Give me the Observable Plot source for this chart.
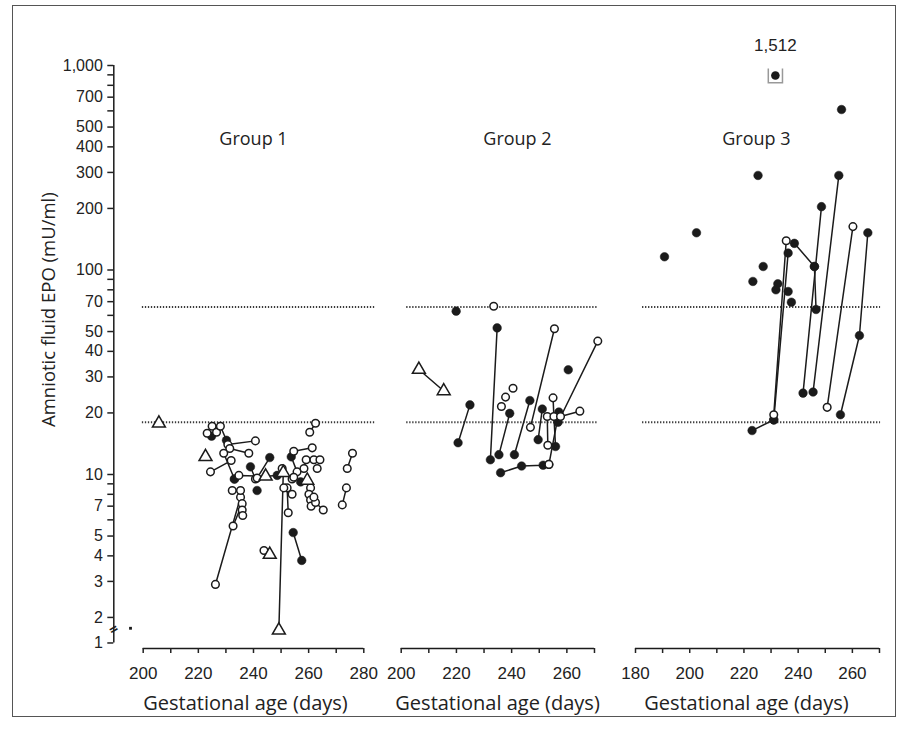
<!DOCTYPE html>
<html><head><meta charset="utf-8">
<script src="https://cdn.jsdelivr.net/npm/d3@7"></script>
<script src="https://cdn.jsdelivr.net/npm/@observablehq/plot@0.6"></script>
<style>
html,body{margin:0;padding:0;background:#fff;}
#chart{position:relative;width:906px;height:738px;font-family:"Open Sans",sans-serif;}
#chart svg{position:absolute;left:0;top:0;}
#frame{position:absolute;left:12px;top:5px;width:884px;height:712px;border:1px solid #555;box-sizing:border-box;}
</style></head><body>
<div id="chart"><div id="frame"></div></div>
<script>
// ---------- axis values ----------
const yDomain = [1.4095, 1483];
const yTicks = [1,2,3,4,5,6,7,8,9,10,20,30,40,50,60,70,80,90,100,200,300,400,500,600,700,800,900,1000];
const yTickText = [1,2,3,4,5,7,10,20,30,40,50,70,100,200,300,400,500,700,1000];
const axisBreakValue = 1;      // bottom label "1"
const axisBreakDrawnAt = 1.5;  // broken axis: "1" sits just below 2
const refLevels = [18, 66];    // dotted reference lines (mU/ml)
const g1Ticks = [200,210,220,230,240,250,260,270,280];
const g2Ticks = [200,210,220,230,240,250,260,270];
const g3Ticks = [180,190,200,210,220,230,240,250,260,270];
const xTickText = [180,200,220,240,260,280];
const groupNames = ["Group 1", "Group 2", "Group 3"];
const xLabel = "Gestational age (days)";
const yLabel = "Amniotic fluid EPO (mU/ml)";

// ---------- data: [day, EPO mU/ml, marker]  f=filled, o=open, t=triangle ----------
const g1Lines = [
  [[225.0,17.2,"o"],[226.6,16.1,"o"]],
  [[228.0,17.2,"o"],[230.2,14.7,"f"]],
  [[223.2,15.9,"o"],[224.8,15.4,"f"]],
  [[230.7,14.0,"o"],[240.7,14.6,"o"]],
  [[231.4,13.4,"o"],[238.3,12.7,"o"]],
  [[229.2,12.7,"o"],[233.1,9.5,"f"]],
  [[224.4,10.3,"o"],[231.9,11.7,"o"]],
  [[238.9,10.9,"f"],[240.7,9.5,"o"]],
  [[241.3,9.6,"o"],[245.9,12.1,"f"]],
  [[233.1,9.5,"f"],[234.7,9.9,"o"],[244.4,9.8,"t"],[248.6,9.9,"f"]],
  [[226.2,2.9,"o"],[235.3,7.75,"o"]],
  [[232.6,5.6,"o"],[235.9,7.2,"o"]],
  [[232.3,8.35,"o"],[235.3,8.35,"o"]],
  [[235.9,6.7,"o"],[236.1,6.3,"o"]],
  [[243.8,4.25,"o"],[245.9,4.06,"t"]],
  [[249.2,1.73,"t"],[250.8,10.2,"t"]],
  [[254.4,5.2,"f"],[257.5,3.8,"f"]],
  [[252.6,6.5,"o"],[252.2,8.6,"o"]],
  [[254.6,13.0,"o"],[261.3,13.5,"o"]],
  [[260.4,16.1,"o"],[262.5,17.8,"o"]],
  [[253.7,12.2,"f"],[255.8,10.3,"o"]],
  [[258.3,10.7,"o"],[259.1,11.8,"o"]],
  [[257.1,9.2,"f"],[259.5,9.35,"t"]],
  [[260.7,8.6,"o"],[260.1,8.0,"o"],[260.7,7.5,"o"],[260.9,7.0,"o"]],
  [[262.5,7.3,"o"],[265.3,6.7,"o"]],
  [[251.0,8.6,"o"],[254.0,8.0,"o"]],
  [[275.9,12.7,"o"],[274.0,10.7,"o"]],
  [[273.7,8.6,"o"],[272.2,7.1,"o"]],
  [[250.4,10.7,"o"],[254.0,9.5,"o"]]
];
const g1Singles = [
  [205.7,17.8,"t"],[222.6,12.2,"t"],[241.3,8.35,"f"],[263.1,10.7,"o"],
  [261.9,11.8,"o"],[264.1,11.8,"o"],[254.6,9.7,"o"],[261.9,7.75,"o"]
];
const g1Stray = [[195.4,1.77]];

const g2Lines = [
  [[206.4,32.6,"t"],[215.4,25.6,"t"]],
  [[220.6,14.3,"f"],[224.9,21.9,"f"]],
  [[232.3,11.8,"f"],[234.75,52.1,"f"]],
  [[235.4,12.5,"f"],[239.3,19.9,"f"]],
  [[241.0,12.5,"f"],[246.6,23.0,"f"]],
  [[246.8,17.0,"o"],[255.5,51.6,"o"]],
  [[256.8,18.0,"f"],[271.2,44.9,"o"]],
  [[236.0,10.2,"f"],[243.6,11.0,"f"],[251.4,11.1,"f"],[253.5,11.2,"o"]],
  [[249.6,14.8,"f"],[251.1,20.9,"f"]],
  [[252.9,19.2,"o"],[253.1,13.9,"o"]],
  [[255.0,23.7,"o"],[255.3,19.2,"o"],[255.9,13.7,"f"]],
  [[257.7,19.2,"o"],[264.7,20.4,"o"]],
  [[253.5,11.2,"o"],[257.1,20.2,"f"]]
];
const g2Singles = [
  [219.9,62.9,"f"],[233.5,66.5,"o"],[240.5,26.4,"o"],[237.8,23.9,"o"],[236.3,21.5,"o"],[260.5,32.5,"f"]
];

const g3Lines = [
  [[223.0,16.4,"f"],[231.0,18.5,"f"]],
  [[231.0,18.5,"f"],[236.3,121,"f"]],
  [[231.0,19.6,"o"],[235.6,139,"o"]],
  [[238.6,135,"f"],[246.0,104,"f"]],
  [[241.8,25.0,"f"],[248.6,204,"f"]],
  [[245.5,25.3,"f"],[255.0,290,"f"]],
  [[246.0,104,"f"],[246.6,64.1,"f"]],
  [[250.7,21.3,"o"],[260.2,163,"o"]],
  [[255.6,19.6,"f"],[262.6,47.8,"f"],[265.7,152,"f"]]
];
const g3Singles = [
  [190.7,116,"f"],[202.5,152,"f"],[225.2,290,"f"],[256.0,609,"f"],[227.1,104,"f"],
  [223.3,87.9,"f"],[232.5,85.6,"f"],[231.8,80.0,"f"],[236.3,78.5,"f"],[237.5,69.6,"f"]
];
const g3Outlier = [[231.6,1512,"f"]];
const outlierDrawnAt = 893;   // off-scale value drawn just below the top

// ---------- drawing ----------
const ink = "#1b1b1b";
const tickFont = "'Liberation Sans', Arial, sans-serif";
const fmt = d3.format(",");
const bracket = {draw(ctx, size){const r = Math.sqrt(size)/2; ctx.moveTo(-r,-r); ctx.lineTo(-r,r); ctx.lineTo(r,r); ctx.lineTo(r,-r);}};

function records(lines, singles){
  const L = [];
  lines.forEach((pts,i) => pts.forEach(([day,value,kind]) => L.push({id:i,day,value,kind})));
  const P = L.concat(singles.map(([day,value,kind]) => ({id:-1,day,value,kind})));
  return {L, P};
}

function panel(o){
  const {L, P} = records(o.lines, o.singles);
  const marks = [
    Plot.ruleY(refLevels, {x1: o.dots[0], x2: o.dots[1], stroke: "#3a3a3a", strokeWidth: 2, strokeDasharray: "1.3,1.7"}),
    Plot.ruleY([yDomain[0]], {x1: o.ticks[0], x2: o.ticks[o.ticks.length-1], stroke: ink, strokeWidth: 1.5}),
    Plot.axisX({ticks: o.ticks, tickFormat: d => xTickText.includes(d) ? String(d) : "", tickSize: 5, tickPadding: 13, strokeWidth: 1.5, label: null, fontSize: 17, fontFamily: tickFont}),
    Plot.line(L, {x: "day", y: "value", z: "id", stroke: ink, strokeWidth: 1.5}),
    Plot.dot(P.filter(d => d.kind === "f"), {x: "day", y: "value", r: 4.3, fill: ink, stroke: ink, strokeWidth: 0.5}),
    Plot.dot(P.filter(d => d.kind === "o"), {x: "day", y: "value", r: 3.8, fill: "white", stroke: ink, strokeWidth: 1.5}),
    Plot.dot(P.filter(d => d.kind === "t"), {x: "day", y: "value", symbol: "triangle", r: 4.8, fill: "white", stroke: ink, strokeWidth: 1.5}),
    Plot.text([o.group], {x: o.groupX, frameAnchor: "top", dy: 102, fontSize: 18, fill: "#222"}),
    Plot.text([xLabel], {x: o.labelX, frameAnchor: "bottom", dy: 61, fontSize: 20, fill: "#222"}),
    ...(o.extra || [])
  ];
  return Plot.plot({
    width: 906, height: 738, marginTop: 30, marginBottom: 90, marginLeft: o.mL, marginRight: o.mR,
    x: {domain: o.domain, axis: null},
    y: {type: "log", domain: yDomain, axis: null},
    style: {fontFamily: "'Open Sans', sans-serif", fontSize: "16.5px", color: "#222", background: "transparent", overflow: "visible"},
    marks
  });
}

const p1Domain = [189.34, 284.5];
const pos = v => v === axisBreakValue ? axisBreakDrawnAt : v;
const yTickPos = yTicks.map(pos);

const chart = document.getElementById("chart");
chart.appendChild(panel({
  domain: p1Domain, mL: 113.3, mR: 530.3, ticks: g1Ticks, dots: [199.7, 284.2],
  lines: g1Lines, singles: g1Singles, group: groupNames[0], groupX: 240.0, labelX: 237.1,
  extra: [
    Plot.ruleX([p1Domain[0]], {y1: axisBreakDrawnAt, y2: 1000, stroke: ink, strokeWidth: 1.5}),
    Plot.axisY({ticks: yTickPos, tickFormat: () => "", tickSize: 6, strokeWidth: 1.5, label: null}),
    Plot.text(yTickText, {x: p1Domain[0], y: pos, dx: -11, textAnchor: "end", text: d => fmt(d), fontSize: 16, fontFamily: tickFont, fill: "#222"}),
    Plot.text(["="], {x: p1Domain[0], y: 1.74, rotate: -30, fontSize: 15, fontWeight: "bold", fill: ink}),
    Plot.dot(g1Stray, {x: d => d[0], y: d => d[1], symbol: "square", r: 1.6, fill: ink}),
    Plot.text([yLabel], {x: p1Domain[0], y: 64, dx: -65, rotate: -90, fontSize: 18.5, fill: "#222"})
  ]
}));
chart.appendChild(panel({
  domain: [200, 272], mL: 400.7, mR: 306.5, ticks: g2Ticks, dots: [202, 271],
  lines: g2Lines, singles: g2Singles, group: groupNames[1], groupX: 242.1, labelX: 234.9
}));
chart.appendChild(panel({
  domain: [180, 271], mL: 635, mR: 24.3, ticks: g3Ticks, dots: [182.6, 270.4],
  lines: g3Lines, singles: g3Singles, group: groupNames[2], groupX: 224.6, labelX: 220.9,
  extra: [
    Plot.dot(g3Outlier, {x: d => d[0], y: () => outlierDrawnAt, symbol: bracket, r: 8, stroke: "#999", strokeWidth: 1.5, fill: "none"}),
    Plot.dot(g3Outlier, {x: d => d[0], y: () => outlierDrawnAt, r: 4.3, fill: ink}),
    Plot.text(g3Outlier, {x: d => d[0], y: () => outlierDrawnAt, dy: -30, text: d => fmt(d[1]), fontSize: 17, fontFamily: tickFont, fill: "#222"})
  ]
}));
</script></body></html>
